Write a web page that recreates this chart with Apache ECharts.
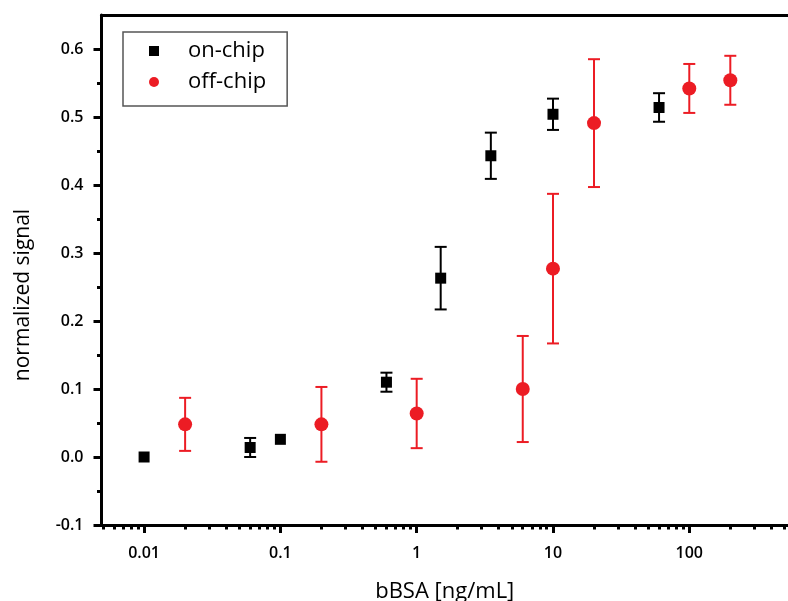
<!DOCTYPE html>
<html>
<head>
<meta charset="utf-8">
<script src="https://cdn.jsdelivr.net/npm/echarts@6/dist/echarts.min.js"></script>
<style>
  html, body { margin: 0; padding: 0; background: #fff; }
  #chart { width: 788px; height: 601px; }
</style>
</head>
<body>
<div id="chart"></div>
<script>
// bBSA concentration [ng/mL] and normalized signal with standard deviations
const onChipConc   = [0.01, 0.06, 0.1, 0.6, 1.5, 3.5, 10, 60];
const onChipSignal = [0.000, 0.014, 0.026, 0.110, 0.263, 0.443, 0.504, 0.514];
const onChipErr    = [0.000, 0.014, 0.000, 0.014, 0.046, 0.034, 0.023, 0.021];

const offChipConc   = [0.02, 0.2, 1, 6, 10, 20, 100, 200];
const offChipSignal = [0.048, 0.048, 0.064, 0.100, 0.277, 0.491, 0.542, 0.554];
const offChipErr    = [0.039, 0.055, 0.051, 0.078, 0.110, 0.094, 0.036, 0.036];

const xMajorTicks = [0.01, 0.1, 1, 10, 100];
const xTickLabels = ['0.01', '0.1', '1', '10', '100'];
const yMajorTicks = [-0.1, 0, 0.1, 0.2, 0.3, 0.4, 0.5, 0.6];
const yTickLabels = ['-0.1', '0.0', '0.1', '0.2', '0.3', '0.4', '0.5', '0.6'];

const X_MIN = 0.00487, X_MAX = 530;
const Y_MIN = -0.1, Y_MAX = 0.65;
const FONT = 'Open Sans';
const RED = '#ec1c24';

// minor ticks: 2..9 of every decade inside the axis range
const xMinorTicks = [];
for (let e = -3; e <= 2; e++) {
  for (let m = 2; m <= 9; m++) {
    const v = Number((m * Math.pow(10, e)).toPrecision(3));
    if (v >= X_MIN && v <= X_MAX) xMinorTicks.push(v);
  }
}
const yMinorTicks = yMajorTicks.slice(0, -1).map(v => Number((v + 0.05).toFixed(2)));

const pairs = (xs, ys) => xs.map((x, i) => [x, ys[i]]);
const bars = (xs, ys, es) => xs.map((x, i) => [x, ys[i] - es[i], ys[i] + es[i]]);

function errorBar(color, lineWidth, capHalf) {
  return function (params, api) {
    const x = api.value(0);
    if (api.value(2) - api.value(1) <= 0) return null;
    const lo = api.coord([x, api.value(1)]);
    const hi = api.coord([x, api.value(2)]);
    const style = { stroke: color, lineWidth: lineWidth, fill: null };
    return {
      type: 'group',
      children: [
        { type: 'line', shape: { x1: hi[0], y1: hi[1], x2: lo[0], y2: lo[1] }, style: style },
        { type: 'line', shape: { x1: hi[0] - capHalf, y1: hi[1], x2: hi[0] + capHalf, y2: hi[1] }, style: style },
        { type: 'line', shape: { x1: lo[0] - capHalf, y1: lo[1], x2: lo[0] + capHalf, y2: lo[1] }, style: style }
      ]
    };
  };
}

const chart = echarts.init(document.getElementById('chart'), null, { renderer: 'canvas' });

const axisLineStyle = { color: '#000', width: 3 };
const tickStyle = { color: '#000', width: 3 };

chart.setOption({
  animation: false,
  backgroundColor: '#fff',
  textStyle: { fontFamily: FONT },
  grid: { left: 101.5, top: 15, width: 686.5, height: 510, containLabel: false, outerBoundsMode: 'none' },
  legend: {
    orient: 'vertical',
    left: 123,
    top: 32,
    data: ['on-chip', 'off-chip'],
    itemWidth: 10,
    itemHeight: 10,
    itemGap: 7,
    padding: [7, 21, 12, 26],
    borderColor: '#555',
    borderWidth: 1.5,
    textStyle: { fontFamily: FONT, fontSize: 22, color: '#000', lineHeight: 24, padding: [0, 0, 0, 24] }
  },
  xAxis: [
    {
      type: 'log', min: X_MIN, max: X_MAX, position: 'bottom',
      name: 'bBSA [ng/mL]', nameLocation: 'middle', nameGap: 56,
      nameTextStyle: { fontFamily: FONT, fontSize: 22, color: '#000' },
      axisLine: { show: true, onZero: false, lineStyle: axisLineStyle },
      axisTick: { show: true, inside: false, length: 8, customValues: xMajorTicks, lineStyle: tickStyle },
      axisLabel: {
        customValues: xMajorTicks, margin: 20, color: '#000', fontFamily: FONT, fontSize: 16, fontWeight: 600,
        formatter: v => xTickLabels[xMajorTicks.findIndex(t => Math.abs(Math.log10(t) - Math.log10(v)) < 1e-6)] || ''
      },
      splitLine: { show: false }, minorTick: { show: false }
    },
    {
      // minor ticks of the log axis
      type: 'log', min: X_MIN, max: X_MAX, position: 'bottom',
      axisLine: { show: false, onZero: false },
      axisTick: { show: true, inside: false, length: 4.5, customValues: xMinorTicks, lineStyle: tickStyle },
      axisLabel: { show: false }, splitLine: { show: false }
    },
    {
      // frame line along the top
      type: 'value', min: 0, max: 1, position: 'top',
      axisLine: { show: true, onZero: false, lineStyle: axisLineStyle },
      axisTick: { show: false }, axisLabel: { show: false }, splitLine: { show: false }
    }
  ],
  yAxis: [
    {
      type: 'value', min: Y_MIN, max: Y_MAX, interval: 0.1, position: 'left',
      name: 'normalized signal', nameLocation: 'middle', nameGap: 68,
      nameTextStyle: { fontFamily: FONT, fontSize: 21, color: '#000', padding: [0, 50, 0, 0] },
      axisLine: { show: true, onZero: false, lineStyle: axisLineStyle },
      axisTick: { show: true, inside: false, length: 8, customValues: yMajorTicks, lineStyle: tickStyle },
      axisLabel: {
        customValues: yMajorTicks, margin: 18, color: '#000', fontFamily: FONT, fontSize: 16, fontWeight: 600,
        formatter: v => yTickLabels[yMajorTicks.findIndex(t => Math.abs(t - v) < 1e-6)] || ''
      },
      splitLine: { show: false }
    },
    {
      // minor ticks of the signal axis
      type: 'value', min: Y_MIN, max: Y_MAX, position: 'left',
      axisLine: { show: false, onZero: false },
      axisTick: { show: true, inside: false, length: 4.5, customValues: yMinorTicks, lineStyle: tickStyle },
      axisLabel: { show: false }, splitLine: { show: false }
    }
  ],
  series: [
    {
      name: 'on-chip error', type: 'custom', xAxisIndex: 0, yAxisIndex: 0,
      renderItem: errorBar('#000', 2, 6),
      encode: { x: 0, y: [1, 2] },
      data: bars(onChipConc, onChipSignal, onChipErr), z: 2
    },
    {
      name: 'off-chip error', type: 'custom', xAxisIndex: 0, yAxisIndex: 0,
      renderItem: errorBar(RED, 2, 6),
      encode: { x: 0, y: [1, 2] },
      data: bars(offChipConc, offChipSignal, offChipErr), z: 2
    },
    {
      name: 'on-chip', type: 'scatter', xAxisIndex: 0, yAxisIndex: 0,
      symbol: 'rect', symbolSize: 11,
      itemStyle: { color: '#000', opacity: 1 },
      data: pairs(onChipConc, onChipSignal), z: 3
    },
    {
      name: 'off-chip', type: 'scatter', xAxisIndex: 0, yAxisIndex: 0,
      symbol: 'circle', symbolSize: 14,
      itemStyle: { color: RED, opacity: 1 },
      data: pairs(offChipConc, offChipSignal), z: 3
    }
  ]
});
</script>
</body>
</html>
